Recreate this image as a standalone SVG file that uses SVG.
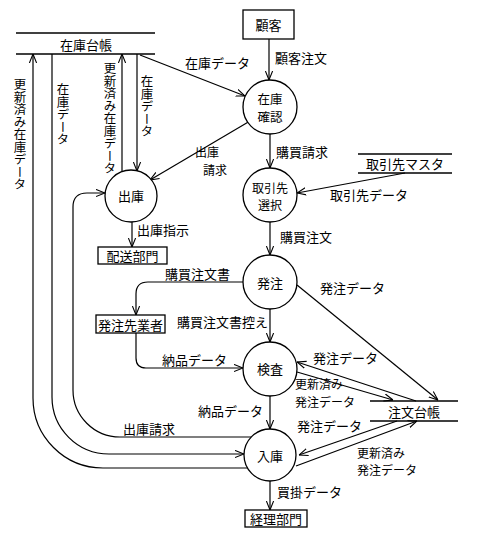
<svg xmlns="http://www.w3.org/2000/svg" width="485" height="535" viewBox="0 0 485 535">
<style>
text{font-family:"Noto Sans CJK JP","Noto Sans CJK SC",sans-serif;font-size:13px;fill:#000}
.c{text-anchor:middle;dominant-baseline:central}
.v{writing-mode:vertical-rl;font-size:12.5px}
.t{font-size:12px}
.u{font-size:12.5px}
.n{fill:#fff;stroke:#000;stroke-width:1.3}
.s{stroke:#000;stroke-width:1.3;fill:none}
.e{stroke:#000;stroke-width:1.2;fill:none;marker-end:url(#a)}
</style>
<defs>
<marker id="a" viewBox="0 0 10 10" refX="10" refY="5" markerWidth="9" markerHeight="9" orient="auto" markerUnits="userSpaceOnUse">
<path d="M0,1 L10,5 L0,9" fill="none" stroke="#000" stroke-width="1.2"/>
</marker>
</defs>
<rect width="485" height="535" fill="#fff"/>
<g id="connectors">
<path class="e" d="M269,39 L269,80"/>
<path class="e" d="M140,55 L245,96"/>
<path class="e" d="M250,121 L150,180"/>
<path class="e" d="M270,134 L270,168"/>
<path class="e" d="M405,173 L297,193"/>
<path class="e" d="M270,222 L270,255"/>
<path class="e" d="M132,222 L132,247"/>
<path class="e" d="M251,437 L120,437 A47,47 0 0 1 73,390 L73,207 Q73,193 87,193 L105,193"/>
<path class="e" d="M52,54 L52,397 A57,57 0 0 0 109,454 L244,454"/>
<path class="e" d="M248,468 L103,468 A70,70 0 0 1 33,398 L33,54"/>
<path class="e" d="M122,171 L122,54"/>
<path class="e" d="M137,54 L137,171"/>
<path class="e" d="M243,282 L148,282 Q136,282 136,294 L136,315"/>
<path class="e" d="M270,309 L270,342"/>
<path class="e" d="M136,333 L136,358 Q136,368 146,368 L243,368"/>
<path class="e" d="M297,285 L438,400"/>
<path class="e" d="M416,401 L297,362"/>
<path class="e" d="M297,372 L393,400"/>
<path class="e" d="M270,396 L270,429"/>
<path class="e" d="M397,421 L299,455"/>
<path class="e" d="M296,466 L417,421"/>
<path class="e" d="M270,481 L270,510"/>
<text x="275" y="63">顧客注文</text>
<text x="185" y="68">在庫データ</text>
<text class="t"><tspan x="195" y="157">出庫</tspan><tspan x="203" y="174.5">請求</tspan></text>
<text x="276" y="157">購買請求</text>
<text x="330" y="200">取引先データ</text>
<text x="280" y="242">購買注文</text>
<text x="137" y="235">出庫指示</text>
<text x="123" y="434">出庫請求</text>
<text class="v" x="20" y="78">更新済み在庫データ</text>
<text class="v" x="63" y="83">在庫データ</text>
<text class="v" x="110" y="62">更新済み在庫データ</text>
<text class="v" x="147" y="75">在庫データ</text>
<text x="165" y="279">購買注文書</text>
<text x="177" y="327">購買注文書控え</text>
<text x="162" y="365">納品データ</text>
<text x="320" y="293">発注データ</text>
<text x="313" y="363">発注データ</text>
<text class="t"><tspan x="295" y="389">更新済み</tspan><tspan x="295" y="406.5">発注データ</tspan></text>
<text x="198" y="416">納品データ</text>
<text x="297" y="431">発注データ</text>
<text class="t"><tspan x="357" y="457.5">更新済み</tspan><tspan x="357" y="475">発注データ</tspan></text>
<text x="277" y="497">買掛データ</text>
</g>
<g id="store-zaiko">
<line class="s" x1="16" y1="33" x2="155" y2="33"/>
<line class="s" x1="16" y1="54" x2="155" y2="54"/>
<text class="c" x="86" y="44">在庫台帳</text>
</g>
<g id="store-torihiki">
<line class="s" x1="358" y1="154" x2="452" y2="154"/>
<line class="s" x1="358" y1="173" x2="452" y2="173"/>
<text class="c" x="405" y="163">取引先マスタ</text>
</g>
<g id="store-chumon">
<line class="s" x1="370" y1="401" x2="458" y2="401"/>
<line class="s" x1="370" y1="421" x2="458" y2="421"/>
<text class="c" x="414" y="411">注文台帳</text>
</g>
<g id="kokyaku">
<rect class="n" x="243" y="10" width="51" height="29"/>
<text class="c" x="268.5" y="24.5">顧客</text>
</g>
<g id="haiso">
<rect class="n" x="98" y="247" width="69" height="17"/>
<text class="c" x="132.5" y="255.5">配送部門</text>
</g>
<g id="hacchusaki">
<rect class="n" x="96" y="315" width="69" height="18"/>
<text class="c" x="130.5" y="324">発注先業者</text>
</g>
<g id="keiri">
<rect class="n" x="245" y="510" width="62" height="17"/>
<text class="c" x="276" y="518.5">経理部門</text>
</g>
<g id="zaiko-kakunin">
<circle class="n" cx="270" cy="107" r="27"/>
<text class="c u"><tspan x="270" y="98">在庫</tspan><tspan x="270" y="116">確認</tspan></text>
</g>
<g id="torihiki-sentaku">
<circle class="n" cx="270" cy="195" r="27"/>
<text class="c t"><tspan x="270" y="186.5">取引先</tspan><tspan x="270" y="204">選択</tspan></text>
</g>
<g id="shukko">
<circle class="n" cx="131" cy="196" r="26"/>
<text class="c" x="131" y="195">出庫</text>
</g>
<g id="hacchu">
<circle class="n" cx="270" cy="282" r="27"/>
<text class="c" x="270" y="282">発注</text>
</g>
<g id="kensa">
<circle class="n" cx="270" cy="369" r="27"/>
<text class="c" x="270" y="368">検査</text>
</g>
<g id="nyuko">
<circle class="n" cx="270" cy="455" r="26"/>
<text class="c" x="270" y="455">入庫</text>
</g>
</svg>
